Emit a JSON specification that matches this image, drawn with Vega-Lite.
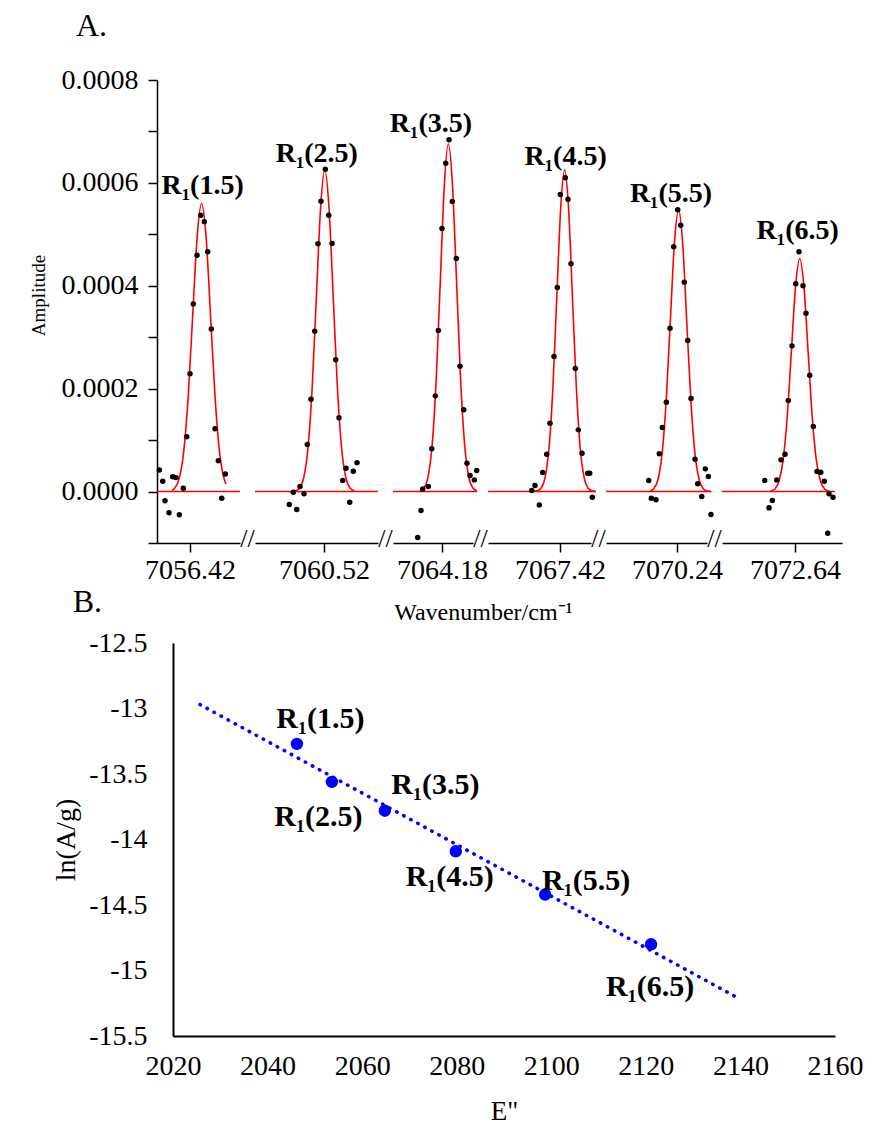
{
  "$schema": "https://vega.github.io/schema/vega-lite/v6.json",
  "background": "white",
  "padding": {"left": 29, "top": 10, "right": 0, "bottom": 0},
  "config": {
    "font": "Liberation Serif",
    "view": {"stroke": null},
    "axis": {"labelFlush": false, "labelOverlap": false, "grid": false, "domainColor": "black", "tickColor": "black", "labelColor": "black", "titleColor": "black", "titleFontWeight": "normal", "domainWidth": 1.5, "tickWidth": 1.5},
    "title": {"fontWeight": "normal", "color": "black"}
  },
  "title": {"text": "A.", "anchor": "start", "dx": 47, "fontSize": 32, "offset": 23},
  "datasets": {
    "peaks": [
      {"peak": "1.5", "label": "R₁(1.5)", "wavenumber": 7056.449, "amplitude": 0.00056, "E": 2046.2, "lnAg": -13.27},
      {"peak": "2.5", "label": "R₁(2.5)", "wavenumber": 7060.522, "amplitude": 0.000625, "E": 2053.6, "lnAg": -13.56},
      {"peak": "3.5", "label": "R₁(3.5)", "wavenumber": 7064.196, "amplitude": 0.000676, "E": 2064.8, "lnAg": -13.78},
      {"peak": "4.5", "label": "R₁(4.5)", "wavenumber": 7067.4315, "amplitude": 0.0006254, "E": 2079.8, "lnAg": -14.09},
      {"peak": "5.5", "label": "R₁(5.5)", "wavenumber": 7070.2438, "amplitude": 0.0005476, "E": 2098.7, "lnAg": -14.42},
      {"peak": "6.5", "label": "R₁(6.5)", "wavenumber": 7072.6518, "amplitude": 0.0004524, "E": 2121.1, "lnAg": -14.80}
    ],
    "breaks": [
      {"peak": "1.5", "wavenumber": 7056.545, "amplitude": -0.0001},
      {"peak": "2.5", "wavenumber": 7060.655, "amplitude": -0.0001},
      {"peak": "3.5", "wavenumber": 7064.2575, "amplitude": -0.0001},
      {"peak": "4.5", "wavenumber": 7067.4975, "amplitude": -0.0001},
      {"peak": "5.5", "wavenumber": 7070.315, "amplitude": -0.0001}
    ],
    "trend": [
      {"E": 2025.7, "lnAg": -12.97},
      {"E": 2140.0, "lnAg": -15.22}
    ],
    "dots": [
      {"peak": "1.5", "wavenumber": 7056.3433, "amplitude": 4.20e-5},
      {"peak": "1.5", "wavenumber": 7056.3518, "amplitude": 1.99e-5},
      {"peak": "1.5", "wavenumber": 7056.3575, "amplitude": -1.80e-5},
      {"peak": "1.5", "wavenumber": 7056.3675, "amplitude": -4.12e-5},
      {"peak": "1.5", "wavenumber": 7056.3768, "amplitude": 2.90e-5},
      {"peak": "1.5", "wavenumber": 7056.385, "amplitude": 2.71e-5},
      {"peak": "1.5", "wavenumber": 7056.3933, "amplitude": -4.51e-5},
      {"peak": "1.5", "wavenumber": 7056.4033, "amplitude": 6.4e-6},
      {"peak": "1.5", "wavenumber": 7056.4118, "amplitude": 1.065e-4},
      {"peak": "1.5", "wavenumber": 7056.42, "amplitude": 2.29e-4},
      {"peak": "1.5", "wavenumber": 7056.4283, "amplitude": 3.645e-4},
      {"peak": "1.5", "wavenumber": 7056.4375, "amplitude": 4.594e-4},
      {"peak": "1.5", "wavenumber": 7056.4468, "amplitude": 5.369e-4},
      {"peak": "1.5", "wavenumber": 7056.4558, "amplitude": 5.247e-4},
      {"peak": "1.5", "wavenumber": 7056.4643, "amplitude": 4.66e-4},
      {"peak": "1.5", "wavenumber": 7056.4733, "amplitude": 3.162e-4},
      {"peak": "1.5", "wavenumber": 7056.4825, "amplitude": 1.22e-4},
      {"peak": "1.5", "wavenumber": 7056.4908, "amplitude": 6.0e-5},
      {"peak": "1.5", "wavenumber": 7056.4993, "amplitude": -1.30e-5},
      {"peak": "1.5", "wavenumber": 7056.5083, "amplitude": 3.43e-5},
      {"peak": "2.5", "wavenumber": 7060.4333, "amplitude": -2.53e-5},
      {"peak": "2.5", "wavenumber": 7060.4433, "amplitude": -1.4e-6},
      {"peak": "2.5", "wavenumber": 7060.4518, "amplitude": -3.50e-5},
      {"peak": "2.5", "wavenumber": 7060.46, "amplitude": 9.7e-6},
      {"peak": "2.5", "wavenumber": 7060.47, "amplitude": -4.5e-6},
      {"peak": "2.5", "wavenumber": 7060.4783, "amplitude": 9.14e-5},
      {"peak": "2.5", "wavenumber": 7060.4875, "amplitude": 1.794e-4},
      {"peak": "2.5", "wavenumber": 7060.4968, "amplitude": 3.116e-4},
      {"peak": "2.5", "wavenumber": 7060.505, "amplitude": 4.815e-4},
      {"peak": "2.5", "wavenumber": 7060.5125, "amplitude": 5.643e-4},
      {"peak": "2.5", "wavenumber": 7060.5233, "amplitude": 6.266e-4},
      {"peak": "2.5", "wavenumber": 7060.5318, "amplitude": 5.371e-4},
      {"peak": "2.5", "wavenumber": 7060.54, "amplitude": 4.821e-4},
      {"peak": "2.5", "wavenumber": 7060.5493, "amplitude": 2.56e-4},
      {"peak": "2.5", "wavenumber": 7060.5575, "amplitude": 1.433e-4},
      {"peak": "2.5", "wavenumber": 7060.5668, "amplitude": 2.14e-5},
      {"peak": "2.5", "wavenumber": 7060.575, "amplitude": 4.53e-5},
      {"peak": "2.5", "wavenumber": 7060.5843, "amplitude": -2.08e-5},
      {"peak": "2.5", "wavenumber": 7060.5933, "amplitude": 3.95e-5},
      {"peak": "2.5", "wavenumber": 7060.6025, "amplitude": 5.58e-5},
      {"peak": "3.5", "wavenumber": 7064.1193, "amplitude": -8.94e-5},
      {"peak": "3.5", "wavenumber": 7064.1275, "amplitude": -3.69e-5},
      {"peak": "3.5", "wavenumber": 7064.1318, "amplitude": 5.2e-6},
      {"peak": "3.5", "wavenumber": 7064.1458, "amplitude": 9.7e-6},
      {"peak": "3.5", "wavenumber": 7064.1543, "amplitude": 8.30e-5},
      {"peak": "3.5", "wavenumber": 7064.1633, "amplitude": 1.86e-4},
      {"peak": "3.5", "wavenumber": 7064.1708, "amplitude": 3.13e-4},
      {"peak": "3.5", "wavenumber": 7064.18, "amplitude": 5.113e-4},
      {"peak": "3.5", "wavenumber": 7064.1893, "amplitude": 6.382e-4},
      {"peak": "3.5", "wavenumber": 7064.1975, "amplitude": 6.837e-4},
      {"peak": "3.5", "wavenumber": 7064.2058, "amplitude": 5.638e-4},
      {"peak": "3.5", "wavenumber": 7064.2158, "amplitude": 4.53e-4},
      {"peak": "3.5", "wavenumber": 7064.225, "amplitude": 2.436e-4},
      {"peak": "3.5", "wavenumber": 7064.2343, "amplitude": 1.588e-4},
      {"peak": "3.5", "wavenumber": 7064.2425, "amplitude": 5.50e-5},
      {"peak": "3.5", "wavenumber": 7064.25, "amplitude": 3.11e-5},
      {"peak": "3.5", "wavenumber": 7064.2608, "amplitude": 2.27e-5},
      {"peak": "3.5", "wavenumber": 7064.2668, "amplitude": 4.08e-5},
      {"peak": "4.5", "wavenumber": 7067.3493, "amplitude": 1.9e-6},
      {"peak": "4.5", "wavenumber": 7067.3575, "amplitude": 1.17e-5},
      {"peak": "4.5", "wavenumber": 7067.3683, "amplitude": -2.59e-5},
      {"peak": "4.5", "wavenumber": 7067.3768, "amplitude": 3.69e-5},
      {"peak": "4.5", "wavenumber": 7067.3868, "amplitude": 7.25e-5},
      {"peak": "4.5", "wavenumber": 7067.395, "amplitude": 1.328e-4},
      {"peak": "4.5", "wavenumber": 7067.405, "amplitude": 2.624e-4},
      {"peak": "4.5", "wavenumber": 7067.4133, "amplitude": 3.966e-4},
      {"peak": "4.5", "wavenumber": 7067.4208, "amplitude": 5.774e-4},
      {"peak": "4.5", "wavenumber": 7067.4333, "amplitude": 6.098e-4},
      {"peak": "4.5", "wavenumber": 7067.44, "amplitude": 5.682e-4},
      {"peak": "4.5", "wavenumber": 7067.4475, "amplitude": 4.426e-4},
      {"peak": "4.5", "wavenumber": 7067.4583, "amplitude": 2.391e-4},
      {"peak": "4.5", "wavenumber": 7067.4658, "amplitude": 1.199e-4},
      {"peak": "4.5", "wavenumber": 7067.475, "amplitude": 7.45e-5},
      {"peak": "4.5", "wavenumber": 7067.4893, "amplitude": 3.56e-5},
      {"peak": "4.5", "wavenumber": 7067.4943, "amplitude": 3.56e-5},
      {"peak": "4.5", "wavenumber": 7067.5008, "amplitude": -1.11e-5},
      {"peak": "5.5", "wavenumber": 7070.1693, "amplitude": 2.14e-5},
      {"peak": "5.5", "wavenumber": 7070.1758, "amplitude": -1.30e-5},
      {"peak": "5.5", "wavenumber": 7070.1875, "amplitude": -1.61e-5},
      {"peak": "5.5", "wavenumber": 7070.1958, "amplitude": 7.33e-5},
      {"peak": "5.5", "wavenumber": 7070.2033, "amplitude": 1.244e-4},
      {"peak": "5.5", "wavenumber": 7070.2133, "amplitude": 1.736e-4},
      {"peak": "5.5", "wavenumber": 7070.2225, "amplitude": 3.175e-4},
      {"peak": "5.5", "wavenumber": 7070.2318, "amplitude": 4.757e-4},
      {"peak": "5.5", "wavenumber": 7070.2418, "amplitude": 5.476e-4},
      {"peak": "5.5", "wavenumber": 7070.2493, "amplitude": 5.177e-4},
      {"peak": "5.5", "wavenumber": 7070.2583, "amplitude": 4.069e-4},
      {"peak": "5.5", "wavenumber": 7070.2668, "amplitude": 2.935e-4},
      {"peak": "5.5", "wavenumber": 7070.275, "amplitude": 1.808e-4},
      {"peak": "5.5", "wavenumber": 7070.285, "amplitude": 6.28e-5},
      {"peak": "5.5", "wavenumber": 7070.2918, "amplitude": 1.50e-5},
      {"peak": "5.5", "wavenumber": 7070.3018, "amplitude": -9.7e-6},
      {"peak": "5.5", "wavenumber": 7070.3108, "amplitude": 4.41e-5},
      {"peak": "5.5", "wavenumber": 7070.3183, "amplitude": 2.92e-5},
      {"peak": "5.5", "wavenumber": 7070.325, "amplitude": -4.47e-5},
      {"peak": "6.5", "wavenumber": 7072.5643, "amplitude": 2.14e-5},
      {"peak": "6.5", "wavenumber": 7072.575, "amplitude": -3.17e-5},
      {"peak": "6.5", "wavenumber": 7072.5833, "amplitude": -1.75e-5},
      {"peak": "6.5", "wavenumber": 7072.5943, "amplitude": 2.27e-5},
      {"peak": "6.5", "wavenumber": 7072.605, "amplitude": 6.16e-5},
      {"peak": "6.5", "wavenumber": 7072.615, "amplitude": 7.25e-5},
      {"peak": "6.5", "wavenumber": 7072.6233, "amplitude": 1.769e-4},
      {"peak": "6.5", "wavenumber": 7072.6325, "amplitude": 2.832e-4},
      {"peak": "6.5", "wavenumber": 7072.6418, "amplitude": 4.038e-4},
      {"peak": "6.5", "wavenumber": 7072.65, "amplitude": 4.66e-4},
      {"peak": "6.5", "wavenumber": 7072.66, "amplitude": 3.999e-4},
      {"peak": "6.5", "wavenumber": 7072.6675, "amplitude": 3.466e-4},
      {"peak": "6.5", "wavenumber": 7072.6768, "amplitude": 2.261e-4},
      {"peak": "6.5", "wavenumber": 7072.6858, "amplitude": 1.264e-4},
      {"peak": "6.5", "wavenumber": 7072.695, "amplitude": 3.89e-5},
      {"peak": "6.5", "wavenumber": 7072.7043, "amplitude": 3.75e-5},
      {"peak": "6.5", "wavenumber": 7072.7133, "amplitude": 2.0e-5},
      {"peak": "6.5", "wavenumber": 7072.7218, "amplitude": -8.11e-5},
      {"peak": "6.5", "wavenumber": 7072.725, "amplitude": -4.5e-6},
      {"peak": "6.5", "wavenumber": 7072.735, "amplitude": -1.11e-5}
    ],
    "fit": [
      {"peak": "1.5", "segment": "base", "wavenumber": 7056.3375, "amplitude": 0},
      {"peak": "1.5", "segment": "base", "wavenumber": 7056.545, "amplitude": 0},
      {"peak": "1.5", "segment": "gauss", "wavenumber": 7056.3748, "amplitude": 2.4e-6},
      {"peak": "1.5", "segment": "gauss", "wavenumber": 7056.3815, "amplitude": 6.2e-6},
      {"peak": "1.5", "segment": "gauss", "wavenumber": 7056.3928, "amplitude": 2.46e-5},
      {"peak": "1.5", "segment": "gauss", "wavenumber": 7056.404, "amplitude": 7.58e-5},
      {"peak": "1.5", "segment": "gauss", "wavenumber": 7056.4153, "amplitude": 1.818e-4},
      {"peak": "1.5", "segment": "gauss", "wavenumber": 7056.4265, "amplitude": 3.396e-4},
      {"peak": "1.5", "segment": "gauss", "wavenumber": 7056.4378, "amplitude": 4.942e-4},
      {"peak": "1.5", "segment": "gauss", "wavenumber": 7056.449, "amplitude": 5.6e-4},
      {"peak": "1.5", "segment": "gauss", "wavenumber": 7056.4603, "amplitude": 4.942e-4},
      {"peak": "1.5", "segment": "gauss", "wavenumber": 7056.4715, "amplitude": 3.396e-4},
      {"peak": "1.5", "segment": "gauss", "wavenumber": 7056.4828, "amplitude": 1.818e-4},
      {"peak": "1.5", "segment": "gauss", "wavenumber": 7056.494, "amplitude": 7.58e-5},
      {"peak": "1.5", "segment": "gauss", "wavenumber": 7056.5053, "amplitude": 2.46e-5},
      {"peak": "1.5", "segment": "gauss", "wavenumber": 7056.5098, "amplitude": 1.46e-5},
      {"peak": "2.5", "segment": "base", "wavenumber": 7060.3475, "amplitude": 0},
      {"peak": "2.5", "segment": "base", "wavenumber": 7060.655, "amplitude": 0},
      {"peak": "2.5", "segment": "gauss", "wavenumber": 7060.4485, "amplitude": 1.4e-6},
      {"peak": "2.5", "segment": "gauss", "wavenumber": 7060.459, "amplitude": 6.9e-6},
      {"peak": "2.5", "segment": "gauss", "wavenumber": 7060.4695, "amplitude": 2.74e-5},
      {"peak": "2.5", "segment": "gauss", "wavenumber": 7060.48, "amplitude": 8.46e-5},
      {"peak": "2.5", "segment": "gauss", "wavenumber": 7060.4905, "amplitude": 2.029e-4},
      {"peak": "2.5", "segment": "gauss", "wavenumber": 7060.501, "amplitude": 3.791e-4},
      {"peak": "2.5", "segment": "gauss", "wavenumber": 7060.5115, "amplitude": 5.516e-4},
      {"peak": "2.5", "segment": "gauss", "wavenumber": 7060.522, "amplitude": 6.25e-4},
      {"peak": "2.5", "segment": "gauss", "wavenumber": 7060.5325, "amplitude": 5.516e-4},
      {"peak": "2.5", "segment": "gauss", "wavenumber": 7060.543, "amplitude": 3.791e-4},
      {"peak": "2.5", "segment": "gauss", "wavenumber": 7060.5535, "amplitude": 2.029e-4},
      {"peak": "2.5", "segment": "gauss", "wavenumber": 7060.564, "amplitude": 8.46e-5},
      {"peak": "2.5", "segment": "gauss", "wavenumber": 7060.5745, "amplitude": 2.74e-5},
      {"peak": "2.5", "segment": "gauss", "wavenumber": 7060.585, "amplitude": 6.9e-6},
      {"peak": "2.5", "segment": "gauss", "wavenumber": 7060.5955, "amplitude": 1.4e-6},
      {"peak": "3.5", "segment": "base", "wavenumber": 7064.0575, "amplitude": 0},
      {"peak": "3.5", "segment": "base", "wavenumber": 7064.2675, "amplitude": 0},
      {"peak": "3.5", "segment": "gauss", "wavenumber": 7064.1251, "amplitude": 1.5e-6},
      {"peak": "3.5", "segment": "gauss", "wavenumber": 7064.1353, "amplitude": 7.5e-6},
      {"peak": "3.5", "segment": "gauss", "wavenumber": 7064.1454, "amplitude": 2.97e-5},
      {"peak": "3.5", "segment": "gauss", "wavenumber": 7064.1555, "amplitude": 9.15e-5},
      {"peak": "3.5", "segment": "gauss", "wavenumber": 7064.1656, "amplitude": 2.195e-4},
      {"peak": "3.5", "segment": "gauss", "wavenumber": 7064.1758, "amplitude": 4.1e-4},
      {"peak": "3.5", "segment": "gauss", "wavenumber": 7064.1859, "amplitude": 5.966e-4},
      {"peak": "3.5", "segment": "gauss", "wavenumber": 7064.196, "amplitude": 6.76e-4},
      {"peak": "3.5", "segment": "gauss", "wavenumber": 7064.2061, "amplitude": 5.966e-4},
      {"peak": "3.5", "segment": "gauss", "wavenumber": 7064.2163, "amplitude": 4.1e-4},
      {"peak": "3.5", "segment": "gauss", "wavenumber": 7064.2264, "amplitude": 2.195e-4},
      {"peak": "3.5", "segment": "gauss", "wavenumber": 7064.2365, "amplitude": 9.15e-5},
      {"peak": "3.5", "segment": "gauss", "wavenumber": 7064.2466, "amplitude": 2.97e-5},
      {"peak": "3.5", "segment": "gauss", "wavenumber": 7064.2568, "amplitude": 7.5e-6},
      {"peak": "3.5", "segment": "gauss", "wavenumber": 7064.2669, "amplitude": 1.5e-6},
      {"peak": "4.5", "segment": "base", "wavenumber": 7067.24, "amplitude": 0},
      {"peak": "4.5", "segment": "base", "wavenumber": 7067.5095, "amplitude": 0},
      {"peak": "4.5", "segment": "gauss", "wavenumber": 7067.3535, "amplitude": 2e-7},
      {"peak": "4.5", "segment": "gauss", "wavenumber": 7067.3633, "amplitude": 1.4e-6},
      {"peak": "4.5", "segment": "gauss", "wavenumber": 7067.373, "amplitude": 6.9e-6},
      {"peak": "4.5", "segment": "gauss", "wavenumber": 7067.3828, "amplitude": 2.75e-5},
      {"peak": "4.5", "segment": "gauss", "wavenumber": 7067.3925, "amplitude": 8.46e-5},
      {"peak": "4.5", "segment": "gauss", "wavenumber": 7067.4023, "amplitude": 2.031e-4},
      {"peak": "4.5", "segment": "gauss", "wavenumber": 7067.412, "amplitude": 3.793e-4},
      {"peak": "4.5", "segment": "gauss", "wavenumber": 7067.4218, "amplitude": 5.519e-4},
      {"peak": "4.5", "segment": "gauss", "wavenumber": 7067.4315, "amplitude": 6.254e-4},
      {"peak": "4.5", "segment": "gauss", "wavenumber": 7067.4413, "amplitude": 5.519e-4},
      {"peak": "4.5", "segment": "gauss", "wavenumber": 7067.451, "amplitude": 3.793e-4},
      {"peak": "4.5", "segment": "gauss", "wavenumber": 7067.4608, "amplitude": 2.031e-4},
      {"peak": "4.5", "segment": "gauss", "wavenumber": 7067.4705, "amplitude": 8.46e-5},
      {"peak": "4.5", "segment": "gauss", "wavenumber": 7067.4803, "amplitude": 2.75e-5},
      {"peak": "4.5", "segment": "gauss", "wavenumber": 7067.49, "amplitude": 6.9e-6},
      {"peak": "4.5", "segment": "gauss", "wavenumber": 7067.4998, "amplitude": 1.4e-6},
      {"peak": "4.5", "segment": "gauss", "wavenumber": 7067.5095, "amplitude": 2e-7},
      {"peak": "5.5", "segment": "base", "wavenumber": 7070.0625, "amplitude": 0},
      {"peak": "5.5", "segment": "base", "wavenumber": 7070.325, "amplitude": 0},
      {"peak": "5.5", "segment": "gauss", "wavenumber": 7070.1721, "amplitude": 1.2e-6},
      {"peak": "5.5", "segment": "gauss", "wavenumber": 7070.1823, "amplitude": 6.1e-6},
      {"peak": "5.5", "segment": "gauss", "wavenumber": 7070.1926, "amplitude": 2.4e-5},
      {"peak": "5.5", "segment": "gauss", "wavenumber": 7070.2028, "amplitude": 7.41e-5},
      {"peak": "5.5", "segment": "gauss", "wavenumber": 7070.2131, "amplitude": 1.778e-4},
      {"peak": "5.5", "segment": "gauss", "wavenumber": 7070.2233, "amplitude": 3.321e-4},
      {"peak": "5.5", "segment": "gauss", "wavenumber": 7070.2336, "amplitude": 4.833e-4},
      {"peak": "5.5", "segment": "gauss", "wavenumber": 7070.2438, "amplitude": 5.476e-4},
      {"peak": "5.5", "segment": "gauss", "wavenumber": 7070.2541, "amplitude": 4.833e-4},
      {"peak": "5.5", "segment": "gauss", "wavenumber": 7070.2643, "amplitude": 3.321e-4},
      {"peak": "5.5", "segment": "gauss", "wavenumber": 7070.2746, "amplitude": 1.778e-4},
      {"peak": "5.5", "segment": "gauss", "wavenumber": 7070.2848, "amplitude": 7.41e-5},
      {"peak": "5.5", "segment": "gauss", "wavenumber": 7070.2951, "amplitude": 2.4e-5},
      {"peak": "5.5", "segment": "gauss", "wavenumber": 7070.3053, "amplitude": 6.1e-6},
      {"peak": "5.5", "segment": "gauss", "wavenumber": 7070.3156, "amplitude": 1.2e-6},
      {"peak": "5.5", "segment": "gauss", "wavenumber": 7070.3258, "amplitude": 2e-7},
      {"peak": "6.5", "segment": "base", "wavenumber": 7072.4575, "amplitude": 0},
      {"peak": "6.5", "segment": "base", "wavenumber": 7072.74, "amplitude": 0},
      {"peak": "6.5", "segment": "gauss", "wavenumber": 7072.5792, "amplitude": 1.0e-6},
      {"peak": "6.5", "segment": "gauss", "wavenumber": 7072.5896, "amplitude": 5.0e-6},
      {"peak": "6.5", "segment": "gauss", "wavenumber": 7072.5999, "amplitude": 1.99e-5},
      {"peak": "6.5", "segment": "gauss", "wavenumber": 7072.6103, "amplitude": 6.12e-5},
      {"peak": "6.5", "segment": "gauss", "wavenumber": 7072.6207, "amplitude": 1.469e-4},
      {"peak": "6.5", "segment": "gauss", "wavenumber": 7072.6311, "amplitude": 2.744e-4},
      {"peak": "6.5", "segment": "gauss", "wavenumber": 7072.6414, "amplitude": 3.992e-4},
      {"peak": "6.5", "segment": "gauss", "wavenumber": 7072.6518, "amplitude": 4.524e-4},
      {"peak": "6.5", "segment": "gauss", "wavenumber": 7072.6622, "amplitude": 3.992e-4},
      {"peak": "6.5", "segment": "gauss", "wavenumber": 7072.6726, "amplitude": 2.744e-4},
      {"peak": "6.5", "segment": "gauss", "wavenumber": 7072.6829, "amplitude": 1.469e-4},
      {"peak": "6.5", "segment": "gauss", "wavenumber": 7072.6933, "amplitude": 6.12e-5},
      {"peak": "6.5", "segment": "gauss", "wavenumber": 7072.7037, "amplitude": 1.99e-5},
      {"peak": "6.5", "segment": "gauss", "wavenumber": 7072.7141, "amplitude": 5.0e-6},
      {"peak": "6.5", "segment": "gauss", "wavenumber": 7072.7244, "amplitude": 1.0e-6}
    ]
  },
  "columns": 1,
  "align": "none",
  "spacing": -39,
  "concat": [
    {
      "title": {"text": "Wavenumber/cm⁻¹", "orient": "bottom", "anchor": "middle", "fontSize": 24, "offset": 17, "dx": 48},
      "bounds": "flush",
      "spacing": 15,
      "hconcat": [
        {
          "width": 83, "height": 463,
          "encoding": {
            "x": {"field": "wavenumber", "type": "quantitative", "scale": {"domain": [7056.3375, 7056.545], "nice": false, "zero": false}, "axis": {"title": null, "values": [7056.42], "format": ".2f", "tickSize": 9, "labelFontSize": 28, "labelPadding": 4}},
            "y": {"field": "amplitude", "type": "quantitative", "scale": {"domain": [-0.0001, 0.0008], "nice": false, "zero": false}, "axis": {"title": "Amplitude", "titleFontSize": 19, "titlePadding": 13, "titleY": 215, "values": [-0.0001, 0, 0.0001, 0.0002, 0.0003, 0.0004, 0.0005, 0.0006, 0.0007, 0.0008], "labelExpr": "abs(round(datum.value*10000)) % 2 == 1 ? '' : format(datum.value, '.4f')", "labelFontSize": 28, "labelPadding": 10, "tickSize": 9}}
          },
          "layer": [
            {"data": {"name": "fit"}, "transform": [{"filter": "datum.peak == '1.5'"}], "mark": {"type": "line", "color": "#ff0000", "strokeWidth": 1.6, "interpolate": "monotone"}, "encoding": {"detail": {"field": "segment"}}},
            {"data": {"name": "dots"}, "transform": [{"filter": "datum.peak == '1.5'"}], "mark": {"type": "circle", "color": "black", "size": 30, "opacity": 1}},
            {"data": {"name": "peaks"}, "transform": [{"filter": "datum.peak == '1.5'"}], "mark": {"type": "text", "fontSize": 28, "fontWeight": "bold", "align": "center", "baseline": "alphabetic", "dx": 1, "dy": -9}, "encoding": {"text": {"field": "label"}}},
            {"data": {"name": "breaks"}, "transform": [{"filter": "datum.peak == '1.5'"}], "mark": {"type": "text", "text": "//", "fontSize": 26, "align": "center", "baseline": "middle", "dx": 7.5, "dy": -4}}
          ]
        },
        {
          "width": 123, "height": 463,
          "encoding": {
            "x": {"field": "wavenumber", "type": "quantitative", "scale": {"domain": [7060.3475, 7060.655], "nice": false, "zero": false}, "axis": {"title": null, "values": [7060.52], "format": ".2f", "tickSize": 9, "labelFontSize": 28, "labelPadding": 4}},
            "y": {"field": "amplitude", "type": "quantitative", "scale": {"domain": [-0.0001, 0.0008], "nice": false, "zero": false}, "axis": null}
          },
          "layer": [
            {"data": {"name": "fit"}, "transform": [{"filter": "datum.peak == '2.5'"}], "mark": {"type": "line", "color": "#ff0000", "strokeWidth": 1.6, "interpolate": "monotone"}, "encoding": {"detail": {"field": "segment"}}},
            {"data": {"name": "dots"}, "transform": [{"filter": "datum.peak == '2.5'"}], "mark": {"type": "circle", "color": "black", "size": 30, "opacity": 1}},
            {"data": {"name": "peaks"}, "transform": [{"filter": "datum.peak == '2.5'"}], "mark": {"type": "text", "fontSize": 28, "fontWeight": "bold", "align": "center", "baseline": "alphabetic", "dx": -8, "dy": -8}, "encoding": {"text": {"field": "label"}}},
            {"data": {"name": "breaks"}, "transform": [{"filter": "datum.peak == '2.5'"}], "mark": {"type": "text", "text": "//", "fontSize": 26, "align": "center", "baseline": "middle", "dx": 7.5, "dy": -4}}
          ]
        },
        {
          "width": 80, "height": 463,
          "encoding": {
            "x": {"field": "wavenumber", "type": "quantitative", "scale": {"domain": [7064.0575, 7064.2575], "nice": false, "zero": false}, "axis": {"title": null, "values": [7064.18], "format": ".2f", "tickSize": 9, "labelFontSize": 28, "labelPadding": 4}},
            "y": {"field": "amplitude", "type": "quantitative", "scale": {"domain": [-0.0001, 0.0008], "nice": false, "zero": false}, "axis": null}
          },
          "layer": [
            {"data": {"name": "fit"}, "transform": [{"filter": "datum.peak == '3.5'"}], "mark": {"type": "line", "color": "#ff0000", "strokeWidth": 1.6, "interpolate": "monotone"}, "encoding": {"detail": {"field": "segment"}}},
            {"data": {"name": "dots"}, "transform": [{"filter": "datum.peak == '3.5'"}], "mark": {"type": "circle", "color": "black", "size": 30, "opacity": 1}},
            {"data": {"name": "peaks"}, "transform": [{"filter": "datum.peak == '3.5'"}], "mark": {"type": "text", "fontSize": 28, "fontWeight": "bold", "align": "center", "baseline": "alphabetic", "dx": -17.5, "dy": -11.5}, "encoding": {"text": {"field": "label"}}},
            {"data": {"name": "breaks"}, "transform": [{"filter": "datum.peak == '3.5'"}], "mark": {"type": "text", "text": "//", "fontSize": 26, "align": "center", "baseline": "middle", "dx": 7.5, "dy": -4}}
          ]
        },
        {
          "width": 103, "height": 463,
          "encoding": {
            "x": {"field": "wavenumber", "type": "quantitative", "scale": {"domain": [7067.24, 7067.4975], "nice": false, "zero": false}, "axis": {"title": null, "values": [7067.42], "format": ".2f", "tickSize": 9, "labelFontSize": 28, "labelPadding": 4}},
            "y": {"field": "amplitude", "type": "quantitative", "scale": {"domain": [-0.0001, 0.0008], "nice": false, "zero": false}, "axis": null}
          },
          "layer": [
            {"data": {"name": "fit"}, "transform": [{"filter": "datum.peak == '4.5'"}], "mark": {"type": "line", "color": "#ff0000", "strokeWidth": 1.6, "interpolate": "monotone"}, "encoding": {"detail": {"field": "segment"}}},
            {"data": {"name": "dots"}, "transform": [{"filter": "datum.peak == '4.5'"}], "mark": {"type": "circle", "color": "black", "size": 30, "opacity": 1}},
            {"data": {"name": "peaks"}, "transform": [{"filter": "datum.peak == '4.5'"}], "mark": {"type": "text", "fontSize": 28, "fontWeight": "bold", "align": "center", "baseline": "alphabetic", "dx": 1, "dy": -4.5}, "encoding": {"text": {"field": "label"}}},
            {"data": {"name": "breaks"}, "transform": [{"filter": "datum.peak == '4.5'"}], "mark": {"type": "text", "text": "//", "fontSize": 26, "align": "center", "baseline": "middle", "dx": 7.5, "dy": -4}}
          ]
        },
        {
          "width": 101, "height": 463,
          "encoding": {
            "x": {"field": "wavenumber", "type": "quantitative", "scale": {"domain": [7070.0625, 7070.315], "nice": false, "zero": false}, "axis": {"title": null, "values": [7070.24], "format": ".2f", "tickSize": 9, "labelFontSize": 28, "labelPadding": 4}},
            "y": {"field": "amplitude", "type": "quantitative", "scale": {"domain": [-0.0001, 0.0008], "nice": false, "zero": false}, "axis": null}
          },
          "layer": [
            {"data": {"name": "fit"}, "transform": [{"filter": "datum.peak == '5.5'"}], "mark": {"type": "line", "color": "#ff0000", "strokeWidth": 1.6, "interpolate": "monotone"}, "encoding": {"detail": {"field": "segment"}}},
            {"data": {"name": "dots"}, "transform": [{"filter": "datum.peak == '5.5'"}], "mark": {"type": "circle", "color": "black", "size": 30, "opacity": 1}},
            {"data": {"name": "peaks"}, "transform": [{"filter": "datum.peak == '5.5'"}], "mark": {"type": "text", "fontSize": 28, "fontWeight": "bold", "align": "center", "baseline": "alphabetic", "dx": -7.5, "dy": -7.5}, "encoding": {"text": {"field": "label"}}},
            {"data": {"name": "breaks"}, "transform": [{"filter": "datum.peak == '5.5'"}], "mark": {"type": "text", "text": "//", "fontSize": 26, "align": "center", "baseline": "middle", "dx": 7.5, "dy": -4}}
          ]
        },
        {
          "width": 120, "height": 463,
          "encoding": {
            "x": {"field": "wavenumber", "type": "quantitative", "scale": {"domain": [7072.4575, 7072.7575], "nice": false, "zero": false}, "axis": {"title": null, "values": [7072.64], "format": ".2f", "tickSize": 9, "labelFontSize": 28, "labelPadding": 4}},
            "y": {"field": "amplitude", "type": "quantitative", "scale": {"domain": [-0.0001, 0.0008], "nice": false, "zero": false}, "axis": null}
          },
          "layer": [
            {"data": {"name": "fit"}, "transform": [{"filter": "datum.peak == '6.5'"}], "mark": {"type": "line", "color": "#ff0000", "strokeWidth": 1.6, "interpolate": "monotone"}, "encoding": {"detail": {"field": "segment"}}},
            {"data": {"name": "dots"}, "transform": [{"filter": "datum.peak == '6.5'"}], "mark": {"type": "circle", "color": "black", "size": 30, "opacity": 1}},
            {"data": {"name": "peaks"}, "transform": [{"filter": "datum.peak == '6.5'"}], "mark": {"type": "text", "fontSize": 28, "fontWeight": "bold", "align": "center", "baseline": "alphabetic", "dx": -2, "dy": -20}, "encoding": {"text": {"field": "label"}}}
          ]
        }
      ]
    },
    {
      "title": {"text": "B.", "anchor": "start", "dx": 20, "fontSize": 32, "offset": 10},
      "width": 678, "height": 393,
      "encoding": {
        "x": {"field": "E", "type": "quantitative", "scale": {"domain": [2020, 2160], "range": [16, 678], "nice": false, "zero": false}, "axis": {"title": "E\"", "titleFontSize": 27, "titlePadding": 18, "values": [2020, 2040, 2060, 2080, 2100, 2120, 2140, 2160], "format": "d", "labelFontSize": 28, "labelPadding": 16, "ticks": false, "tickSize": 0, "domainWidth": 2}},
        "y": {"field": "lnAg", "type": "quantitative", "scale": {"domain": [-15.5, -12.5], "nice": false, "zero": false}, "axis": {"title": "ln(A/g)", "titleFontSize": 28, "titlePadding": 8, "offset": -16, "values": [-15.5, -15, -14.5, -14, -13.5, -13, -12.5], "labelExpr": "'' + datum.value", "labelFontSize": 28, "labelPadding": 26, "ticks": false, "tickSize": 0, "domainWidth": 2}}
      },
      "layer": [
        {"data": {"name": "trend"}, "mark": {"type": "line", "color": "#0000ff", "strokeWidth": 3.5, "strokeDash": [0.5, 7.5], "strokeCap": "round"}},
        {"data": {"name": "peaks"}, "mark": {"type": "circle", "color": "#0000ff", "size": 154, "opacity": 1}},
        {"data": {"name": "peaks"}, "transform": [{"filter": "datum.peak == '1.5'"}], "mark": {"type": "text", "fontSize": 30, "fontWeight": "bold", "align": "center", "baseline": "alphabetic", "dx": 23.5, "dy": -15.5}, "encoding": {"text": {"field": "label"}}},
        {"data": {"name": "peaks"}, "transform": [{"filter": "datum.peak == '2.5'"}], "mark": {"type": "text", "fontSize": 30, "fontWeight": "bold", "align": "center", "baseline": "alphabetic", "dx": -13.5, "dy": 44}, "encoding": {"text": {"field": "label"}}},
        {"data": {"name": "peaks"}, "transform": [{"filter": "datum.peak == '3.5'"}], "mark": {"type": "text", "fontSize": 30, "fontWeight": "bold", "align": "center", "baseline": "alphabetic", "dx": 50.5, "dy": -17}, "encoding": {"text": {"field": "label"}}},
        {"data": {"name": "peaks"}, "transform": [{"filter": "datum.peak == '4.5'"}], "mark": {"type": "text", "fontSize": 30, "fontWeight": "bold", "align": "center", "baseline": "alphabetic", "dx": -6, "dy": 35}, "encoding": {"text": {"field": "label"}}},
        {"data": {"name": "peaks"}, "transform": [{"filter": "datum.peak == '5.5'"}], "mark": {"type": "text", "fontSize": 30, "fontWeight": "bold", "align": "center", "baseline": "alphabetic", "dx": 41, "dy": -4.5}, "encoding": {"text": {"field": "label"}}},
        {"data": {"name": "peaks"}, "transform": [{"filter": "datum.peak == '6.5'"}], "mark": {"type": "text", "fontSize": 30, "fontWeight": "bold", "align": "center", "baseline": "alphabetic", "dx": -1, "dy": 52}, "encoding": {"text": {"field": "label"}}}
      ]
    }
  ]
}
